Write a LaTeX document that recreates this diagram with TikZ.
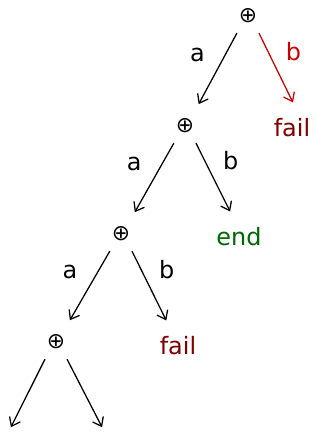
\documentclass[tikz,border=0pt]{standalone}
\usepackage{fontspec}
\setsansfont{DejaVu Sans}
\usetikzlibrary{arrows.meta,positioning}
\begin{document}
\begin{tikzpicture}[x=0.025cm, y=-0.025cm, font=\fontsize{17}{20}\sffamily, >={Straight Barb[length=2mm, width=3mm]}, line width=0.9pt,
  op/.style={minimum width=13pt, minimum height=20pt, inner sep=0pt, font=\fontsize{15.5}{18}\sffamily},
  wd/.style={minimum height=30pt, inner sep=0pt},
  fl/.style={wd, text=red!50!black},
  ok/.style={wd, text=green!40!black},
  ed/.style={->, shorten <=2pt, shorten >=3pt},
  eo/.style={ed, shorten >=5.8pt},
  la/.style={pos=0.3, left=14pt, inner sep=0pt},
  lb/.style={pos=0.27, right=12.5pt, inner sep=0pt}]
  \useasboundingbox (0,0) rectangle (321,434);
  \node[op] (o1) at (248,16) {⊕};
  \node[op] (o2) at (185,126) {⊕};
  \node[op] (o3) at (121,234) {⊕};
  \node[op] (o4) at (56,342) {⊕};
  \node[fl] (f1) at (292,128) {fail};
  \node[ok] (e1) at (239,237) {end};
  \node[fl] (f2) at (178,346) {fail};
  \coordinate (c1) at (9,431);
  \coordinate (c2) at (104,431);
  % a-branches
  \draw[eo] (o1.south west) -- node[la] {a} (o2.north east);
  \draw[eo] (o2.south west) -- node[la] {a} (o3.north east);
  \draw[eo] (o3.south west) -- node[la] {a} (o4.north east);
  % b-branches
  \draw[ed, red!80!black] (o1.south east) -- node[lb] {b} ([xshift=2pt]f1.north);
  \draw[ed] (o2.south east) -- node[lb] {b} ([xshift=-5pt]e1.north);
  \draw[ed] (o3.south east) -- node[lb] {b} ([xshift=-7pt]f2.north);
  \draw[ed] (o4.south west) -- (c1);
  \draw[ed] (o4.south east) -- (c2);
\end{tikzpicture}
\end{document}
